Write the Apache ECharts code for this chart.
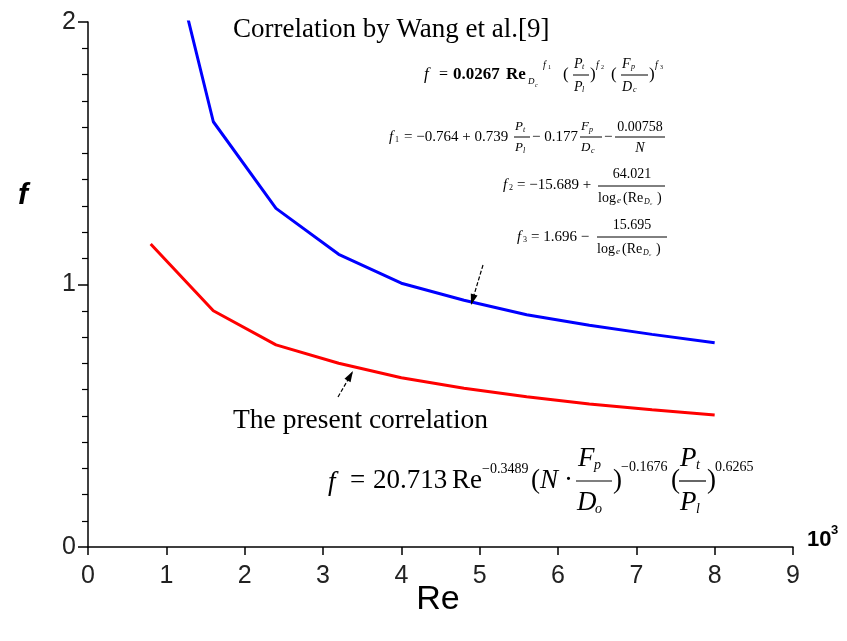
<!DOCTYPE html>
<html>
<head>
<meta charset="utf-8">
<script src="https://cdn.jsdelivr.net/npm/echarts@6/dist/echarts.min.js"></script>
<style>html,body{margin:0;padding:0;background:#fff}#c{width:847px;height:641px}</style>
</head>
<body>
<div id="c"></div>
<script>
// Reynolds number (x 10^3)
const reK = [0.8, 1.6, 2.4, 3.2, 4.0, 4.8, 5.6, 6.4, 7.2, 8.0];
// Correlation by Wang et al. [9]
const fWang = [2.59, 1.62, 1.29, 1.115, 1.005, 0.94, 0.885, 0.845, 0.81, 0.778];
// The present correlation
const fPresent = [1.154, 0.90, 0.77, 0.70, 0.645, 0.605, 0.572, 0.545, 0.523, 0.503];
const xTickLabels = ['0','1','2','3','4','5','6','7','8','9'];
const yTickLabels = ['0','1','2'];

const SERIF = '"Liberation Serif", "Times New Roman", serif';
const SANS = '"Liberation Sans", Arial, sans-serif';
const NARROW = '"Liberation Sans Narrow", "Arial Narrow", "Liberation Sans", Arial, sans-serif';

const G = [];
function T(x, y, s, size, o) {
  o = o || {};
  G.push({
    type: 'text', silent: true, z: 10,
    style: {
      text: s, x: x, y: y,
      font: (o.italic ? 'italic ' : '') + (o.bold ? 'bold ' : '') + size + 'px ' + (o.family || SERIF),
      fill: '#000', textAlign: o.align || 'left', textVerticalAlign: 'middle'
    }
  });
}
function L(x1, y1, x2, y2, w, dash) {
  G.push({type: 'line', silent: true, z: 10, shape: {x1, y1, x2, y2},
    style: {stroke: '#000', lineWidth: w || 1, lineDash: dash || null}});
}
function arrow(tx, ty, px, py) {
  L(tx, ty, px, py, 1.2, [4, 2]);
  const dx = px - tx, dy = py - ty, len = Math.hypot(dx, dy);
  const ux = dx / len, uy = dy / len, nx = -uy, ny = ux;
  const bl = 11, hw = 3.5;
  const bx = px - ux * bl, by = py - uy * bl;
  G.push({type: 'polygon', silent: true, z: 10,
    shape: {points: [[px, py], [bx + nx * hw, by + ny * hw], [bx - nx * hw, by - ny * hw]]},
    style: {fill: '#000'}});
}
// variable with subscript
function VS(x, y, v, s, size, ssize, dx, dy) {
  T(x, y, v, size, {italic: true});
  T(x + dx, y + dy, s, ssize, {italic: true});
}

// ---- Title texts ----
T(233, 30, 'Correlation by Wang et al.[9]', 27);

// ---- Wang formula, line 1 ----
T(424, 75, 'f', 17, {italic: true});
T(439, 75, '=', 16);
T(453, 75, '0.0267', 17, {bold: true});
T(506, 75, 'Re', 17, {bold: true});
T(528, 82, 'D', 9, {italic: true});
T(535, 85, 'c', 6, {italic: true});
T(543, 65, 'f', 10, {italic: true});
T(548, 67, '1', 6);
T(563, 75, '(', 17);
VS(574, 64, 'P', 't', 14, 8, 8, 3);
L(573, 75, 589, 75, 1);
VS(574, 87, 'P', 'l', 14, 8, 8, 3);
T(590, 75, ')', 17);
T(596, 65, 'f', 10, {italic: true});
T(601, 67, '2', 6);
T(611, 75, '(', 17);
VS(622, 64, 'F', 'p', 14, 8, 9, 3);
L(621, 75, 648, 75, 1);
VS(622, 87, 'D', 'c', 14, 8, 11, 3);
T(649, 75, ')', 17);
T(655, 65, 'f', 10, {italic: true});
T(660, 67, '3', 6);

// ---- line 2 ----
T(389, 137, 'f', 15, {italic: true});
T(395, 140, '1', 8);
T(404, 137, '= \u22120.764 + 0.739', 15);
VS(515, 127, 'P', 't', 13, 8, 8, 3);
L(514, 137, 530, 137, 1);
VS(515, 148, 'P', 'l', 13, 8, 8, 3);
T(532, 137, '\u2212 0.177', 15);
VS(581, 127, 'F', 'p', 13, 8, 8, 3);
L(580, 137, 602, 137, 1);
VS(581, 148, 'D', 'c', 13, 8, 10, 3);
T(604, 137, '\u2212', 15);
T(640, 127, '0.00758', 14, {align: 'center'});
L(615, 137, 665, 137, 1);
T(640, 148, 'N', 14, {italic: true, align: 'center'});

// ---- line 3 ----
T(503, 185, 'f', 15, {italic: true});
T(509, 188, '2', 8);
T(517, 185, '= \u221215.689 +', 15);
T(632, 174, '64.021', 14, {align: 'center'});
L(598, 186, 665, 186, 1);
T(598, 198, 'log', 14);
T(617, 201, 'e', 9, {italic: true});
T(623, 198, '(Re', 14);
T(644, 202, 'D', 8, {italic: true});
T(650, 204, 'c', 5, {italic: true});
T(657, 198, ')', 14);

// ---- line 4 ----
T(517, 237, 'f', 15, {italic: true});
T(523, 240, '3', 8);
T(531, 237, '= 1.696 \u2212', 15);
T(632, 225, '15.695', 14, {align: 'center'});
L(597, 237, 667, 237, 1);
T(597, 249, 'log', 14);
T(616, 252, 'e', 9, {italic: true});
T(622, 249, '(Re', 14);
T(643, 253, 'D', 8, {italic: true});
T(649, 255, 'c', 5, {italic: true});
T(656, 249, ')', 14);

// ---- present correlation ----
T(233, 421, 'The present correlation', 27.5);
T(328, 483, 'f', 27, {italic: true});
T(350, 481, '=', 27);
T(373, 481, '20.713', 27);
T(452, 481, 'Re', 27);
T(482, 469, '\u22120.3489', 14);
T(531, 481, '(', 27);
T(540, 481, 'N', 27, {italic: true});
T(564, 481, '\u00b7', 27);
VS(578, 459, 'F', 'p', 27, 14, 16, 6);
L(576, 481, 612, 481, 1.2);
VS(577, 503, 'D', 'o', 27, 14, 18, 6);
T(613, 481, ')', 27);
T(621, 467, '\u22120.1676', 14);
T(671, 481, '(', 27);
VS(680, 459, 'P', 't', 27, 14, 16, 6);
L(679, 481, 706, 481, 1.2);
VS(680, 503, 'P', 'l', 27, 14, 16, 6);
T(707, 481, ')', 27);
T(715, 467, '0.6265', 14);

// arrows
arrow(483, 265, 471, 305);
arrow(338, 397, 353, 371);

// axis titles
T(18, 196, 'f', 30, {italic: true, bold: true, family: SANS});
T(438, 600, 'Re', 34, {align: 'center', family: SANS});
T(807, 540, '10', 22, {bold: true, family: SANS});
T(831, 530, '3', 13, {bold: true, family: SANS});

const chart = echarts.init(document.getElementById('c'));
chart.setOption({
  backgroundColor: '#fff',
  animation: false,
  grid: {left: 88, right: 54, top: 22, bottom: 94, containLabel: false},
  xAxis: {
    type: 'value', min: 0, max: 9, interval: 1,
    axisLine: {onZero: false, lineStyle: {color: '#000', width: 1.5}},
    axisTick: {length: 8, lineStyle: {color: '#000', width: 1.5}},
    axisLabel: {color: '#222', fontSize: 25, fontFamily: NARROW, margin: 17,
      formatter: v => xTickLabels[Math.round(v)]},
    splitLine: {show: false}
  },
  yAxis: {
    type: 'value', min: 0, max: 2, interval: 1,
    axisLine: {onZero: false, lineStyle: {color: '#000', width: 1.5}},
    axisTick: {length: 10, lineStyle: {color: '#000', width: 1.5}},
    minorTick: {show: true, splitNumber: 10, length: 6, lineStyle: {color: '#000', width: 1.2}},
    axisLabel: {color: '#222', fontSize: 25, fontFamily: NARROW, margin: 12,
      formatter: v => yTickLabels[Math.round(v)]},
    splitLine: {show: false}
  },
  series: [
    {type: 'line', name: 'Wang', data: reK.map((x, i) => [x, fWang[i]]),
      showSymbol: false, clip: true, lineStyle: {color: '#0000ff', width: 3}, itemStyle: {color: '#0000ff'}},
    {type: 'line', name: 'Present', data: reK.map((x, i) => [x, fPresent[i]]),
      showSymbol: false, clip: true, lineStyle: {color: '#ff0000', width: 3}, itemStyle: {color: '#ff0000'}}
  ],
  graphic: G
});
</script>
</body>
</html>
